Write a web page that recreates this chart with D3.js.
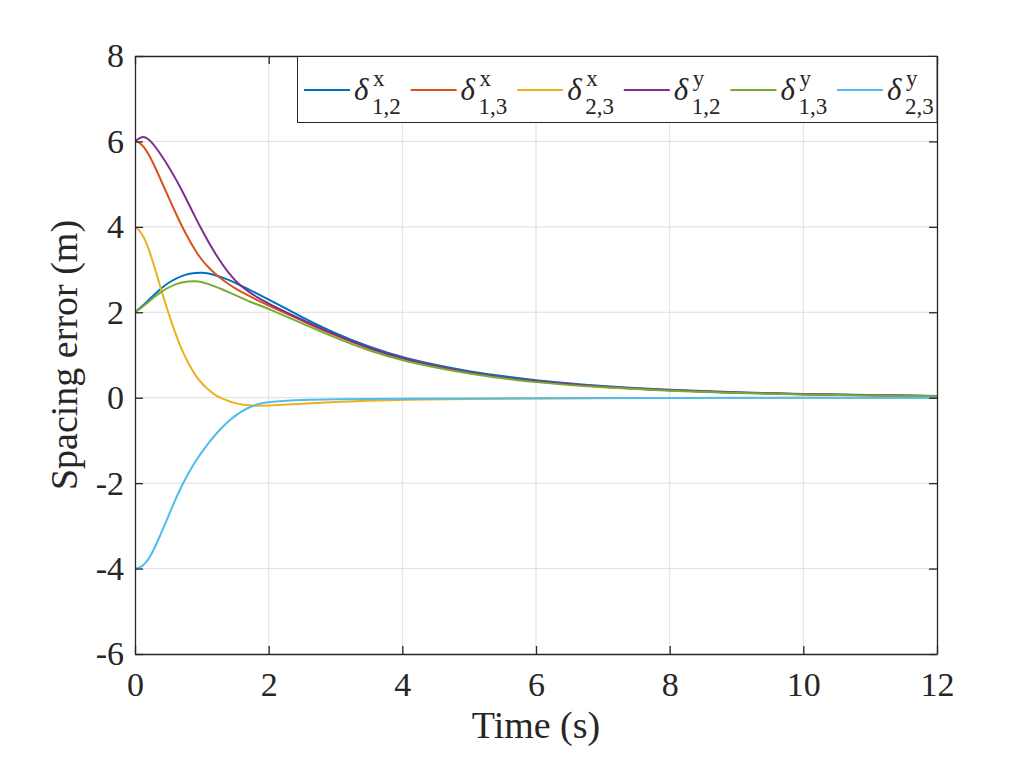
<!DOCTYPE html>
<html>
<head>
<meta charset="utf-8">
<script src="https://cdn.jsdelivr.net/npm/d3@7"></script>
<style>
  body { margin: 0; background: #fff; }
  text { font-family: "Liberation Serif", "Times New Roman", serif; fill: #262626; }
</style>
</head>
<body>
<div id="chart"></div>
<script>
// time samples (s)
const time = [0, 0.1, 0.2, 0.3, 0.4, 0.5, 0.6, 0.7, 0.8, 0.9,
              1.0, 1.1, 1.2, 1.3, 1.4, 1.5, 1.6, 1.7, 1.8, 1.9,
              2.0, 2.5, 3, 3.5, 4, 5, 6, 7, 8, 9, 10, 11, 12];

// spacing errors
const dx12 = [2.0, 2.13, 2.28, 2.43, 2.57, 2.69, 2.78, 2.85, 2.9, 2.92,
              2.93, 2.91, 2.87, 2.82, 2.76, 2.69, 2.61, 2.54, 2.46, 2.38,
              2.3, 1.88, 1.5, 1.19, 0.93, 0.6, 0.4, 0.27, 0.18, 0.125, 0.087, 0.06, 0.042];
const dx13 = [6.02, 5.95, 5.72, 5.4, 5.05, 4.7, 4.35, 4.02, 3.72, 3.45,
              3.22, 3.05, 2.9, 2.77, 2.66, 2.56, 2.47, 2.39, 2.31, 2.23,
              2.16, 1.8, 1.45, 1.15, 0.9, 0.57, 0.37, 0.25, 0.17, 0.115, 0.08, 0.055, 0.038];
const dx23 = [4.0, 3.88, 3.52, 3.02, 2.48, 1.98, 1.52, 1.12, 0.8, 0.53,
              0.33, 0.18, 0.06, -0.02, -0.08, -0.13, -0.16, -0.18, -0.19, -0.19,
              -0.18, -0.14, -0.1, -0.07, -0.05, -0.03, -0.02, -0.012, -0.008, -0.005, -0.003, -0.002, -0.001];
const dy12 = [6.0, 6.13, 6.07, 5.89, 5.66, 5.42, 5.15, 4.86, 4.55, 4.23,
              3.93, 3.64, 3.38, 3.14, 2.92, 2.74, 2.6, 2.48, 2.38, 2.29,
              2.2, 1.82, 1.47, 1.16, 0.9, 0.57, 0.37, 0.25, 0.17, 0.115, 0.08, 0.055, 0.038];
const dy13 = [2.0, 2.11, 2.24, 2.37, 2.49, 2.58, 2.65, 2.7, 2.72, 2.73,
              2.71, 2.66, 2.6, 2.54, 2.47, 2.4, 2.33, 2.26, 2.2, 2.14,
              2.08, 1.74, 1.4, 1.1, 0.86, 0.55, 0.35, 0.24, 0.16, 0.11, 0.075, 0.052, 0.036];
const dy23 = [-4.0, -3.97, -3.8, -3.5, -3.14, -2.77, -2.4, -2.06, -1.76, -1.5,
              -1.27, -1.06, -0.87, -0.7, -0.55, -0.42, -0.32, -0.23, -0.17, -0.13,
              -0.1, -0.05, -0.035, -0.03, -0.025, -0.018, -0.012, -0.008, -0.005, -0.003, -0.002, -0.001, 0];

const seriesValues = [dx12, dx13, dx23, dy12, dy13, dy23];
const seriesSup = ["x", "x", "x", "y", "y", "y"];
const seriesSub = ["1,2", "1,3", "2,3", "1,2", "1,3", "2,3"];
const colors = ["#0072BD", "#D95319", "#EDB120", "#7E2F8E", "#77AC30", "#4DBEEE"];

const xTicks = [0, 2, 4, 6, 8, 10, 12];
const yTicks = [-6, -4, -2, 0, 2, 4, 6, 8];

const margin = {top: 56, right: 98, bottom: 104, left: 135};
const W = 1035, H = 758;
const width = W - margin.left - margin.right;
const height = H - margin.top - margin.bottom;

const svg = d3.select("#chart").append("svg")
  .attr("width", W).attr("height", H);

const g = svg.append("g")
  .attr("transform", "translate(" + margin.left + "," + margin.top + ")");

const x = d3.scaleLinear().domain([0, 12]).range([0, width]);
const y = d3.scaleLinear().domain([-6, 8]).range([height, 0]);

// grid
g.append("g").selectAll("line").data(xTicks.slice(1, -1)).join("line")
  .attr("x1", d => x(d)).attr("x2", d => x(d))
  .attr("y1", 0).attr("y2", height)
  .attr("stroke", "#dfdfdf").attr("stroke-width", 1);
g.append("g").selectAll("line").data(yTicks.slice(1, -1)).join("line")
  .attr("y1", d => y(d)).attr("y2", d => y(d))
  .attr("x1", 0).attr("x2", width)
  .attr("stroke", "#dfdfdf").attr("stroke-width", 1);

// curves
g.append("clipPath").attr("id", "clip")
  .append("rect").attr("width", width).attr("height", height);

const line = d3.line()
  .x((d, i) => x(time[i]))
  .y(d => y(d))
  .curve(d3.curveBasis);

g.append("g").attr("clip-path", "url(#clip)")
  .selectAll("path").data(seriesValues).join("path")
  .attr("d", line)
  .attr("fill", "none")
  .attr("stroke", (d, i) => colors[i])
  .attr("stroke-width", 2);

// axes (ticks pointing inward, box on)
const tickFont = 34;
const fmt = d => String(d);   // plain hyphen, like the original
const styleAxis = sel => {
  sel.select(".domain").attr("stroke", "#262626").attr("stroke-width", 1.3);
  sel.selectAll(".tick line").attr("stroke", "#262626").attr("stroke-width", 1.3);
  sel.selectAll("text").style("font-size", tickFont + "px").attr("fill", "#262626");
};

g.append("g").attr("transform", "translate(0," + height + ")")
  .call(d3.axisBottom(x).tickValues(xTicks).tickFormat(fmt).tickSizeInner(-8).tickSizeOuter(0).tickPadding(18))
  .call(styleAxis);
g.append("g")
  .call(d3.axisTop(x).tickValues(xTicks).tickSizeInner(-8).tickSizeOuter(0).tickFormat(""))
  .call(styleAxis);
g.append("g")
  .call(d3.axisLeft(y).tickValues(yTicks).tickFormat(fmt).tickSizeInner(-8).tickSizeOuter(0).tickPadding(11))
  .call(styleAxis);
g.append("g").attr("transform", "translate(" + width + ",0)")
  .call(d3.axisRight(y).tickValues(yTicks).tickSizeInner(-8).tickSizeOuter(0).tickFormat(""))
  .call(styleAxis);

// axis labels
g.append("text")
  .attr("x", width / 2).attr("y", 682)
  .attr("text-anchor", "middle")
  .style("font-size", "38px")
  .text("Time (s)");
g.append("text")
  .attr("transform", "translate(" + (77 - margin.left) + "," + (height / 2) + ") rotate(-90)")
  .attr("text-anchor", "middle")
  .style("font-size", "38px")
  .text("Spacing error (m)");

// legend
const leg = svg.append("g");
leg.append("rect")
  .attr("x", 297.5).attr("y", 56.5)
  .attr("width", 937 - 297.5).attr("height", 66)
  .attr("fill", "#fff").attr("stroke", "#262626").attr("stroke-width", 1);

const item = leg.selectAll("g.item").data(colors).join("g")
  .attr("class", "item")
  .attr("transform", (d, i) => "translate(" + (304 + i * 106.6) + ",0)");
item.append("line")
  .attr("x1", 0).attr("x2", 46).attr("y1", 90).attr("y2", 90)
  .attr("stroke", d => d).attr("stroke-width", 2);
item.append("text")
  .attr("x", 50).attr("y", 100)
  .style("font-size", "31px").style("font-style", "italic")
  .text("δ");
item.append("text")
  .attr("x", 69).attr("y", 86)
  .style("font-size", "23px")
  .text((d, i) => seriesSup[i]);
item.append("text")
  .attr("x", 68).attr("y", 114)
  .style("font-size", "23px")
  .text((d, i) => seriesSub[i]);
</script>
</body>
</html>
